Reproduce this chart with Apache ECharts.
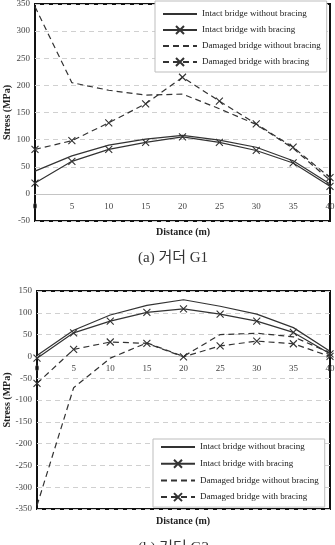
<!DOCTYPE html>
<html>
<head>
<meta charset="utf-8">
<script src="https://cdn.jsdelivr.net/npm/echarts@6/dist/echarts.min.js"></script>
<style>
html,body{margin:0;padding:0;background:#fff;}
#c{width:335px;height:545px;}
</style>
</head>
<body>
<div id="c"></div>
<script>
// ---- data ----
var distance = [0, 5, 10, 15, 20, 25, 30, 35, 40];
var seriesNames = ['Intact bridge without bracing', 'Intact bridge with bracing', 'Damaged bridge without bracing', 'Damaged bridge with bracing'];

// Girder G1 (MPa)
var g1IntactNoBrace  = [42, 70, 90, 101, 108, 99, 86, 61, 18];
var g1IntactBrace    = [20, 60, 82, 95, 105, 95, 80, 57, 14];
var g1DamagedNoBrace = [345, 205, 191, 182, 184, 157, 128, 84, 25];
var g1DamagedBrace   = [82, 98, 131, 166, 215, 171, 129, 86, 30];

// Girder G2 (MPa)
var g2IntactNoBrace  = [2, 60, 95, 117, 130, 115, 97, 66, 12];
var g2IntactBrace    = [-4, 54, 81, 101, 109, 97, 81, 55, 6];
var g2DamagedNoBrace = [-342, -72, -4, 31, 0, 50, 53, 45, 8];
var g2DamagedBrace   = [-62, 16, 33, 30, -1, 24, 35, 29, 0];

var g1Y = {min: -50, max: 350, interval: 50};
var g2Y = {min: -350, max: 150, interval: 50};
var xRange = {min: 0, max: 40, interval: 5};

var xAxisTitle = 'Distance (m)';
var yAxisTitle = 'Stress (MPa)';
var caption1 = '(a) 거더 G1';
var caption2 = '(b) 거더 G2';

// ---- build ----
var SERIF = '"Liberation Serif","DejaVu Serif",serif';
var CROSS = 'path://M0,0L10,10M10,0L0,10';
var hasMarker = [false, true, false, true];
var isDashed = [false, false, true, true];
var grids = [
  {left: 35, top: 4, width: 295, height: 217},
  {left: 37, top: 291, width: 293, height: 218}
];
function pairs(ys){ return distance.map(function(x,i){ return [x, ys[i]]; }); }

function mkSeries(k, ys, idx){
  var marker = hasMarker[k];
  return {
    name: seriesNames[k], type: 'line', xAxisIndex: idx, yAxisIndex: idx,
    data: pairs(ys),
    symbol: marker ? CROSS : 'none',
    showSymbol: marker,
    symbolSize: 7,
    itemStyle: {color: '#333', borderColor: '#333', borderWidth: 1.1},
    lineStyle: {color: '#333', width: 1.2, type: isDashed[k] ? [6, 4] : 'solid'},
    animation: false
  };
}

// x axis sits on the y = 0 line: shift it up from the grid bottom by the zero's share of the height
function mkX(idx, yr){
  var zeroShift = -grids[idx].height * (0 - yr.min) / (yr.max - yr.min);
  return {
    type: 'value', gridIndex: idx, min: xRange.min, max: xRange.max, interval: xRange.interval,
    position: 'bottom', offset: zeroShift,
    axisLine: {show: true, onZero: false, lineStyle: {color: '#c4c4c4', width: 1}},
    axisTick: {show: false},
    axisLabel: {fontFamily: SERIF, fontSize: 9, color: '#444', margin: 8},
    splitLine: {show: false},
    z: 3
  };
}
function mkY(idx, r, gap){
  return {
    type: 'value', gridIndex: idx, min: r.min, max: r.max, interval: r.interval,
    name: yAxisTitle, nameLocation: 'middle', nameRotate: 90, nameGap: gap, nameMoveOverlap: false,
    nameTextStyle: {fontFamily: SERIF, fontSize: 10, fontWeight: 'bold', color: '#222'},
    axisLine: {show: false, onZero: false}, axisTick: {show: false},
    axisLabel: {fontFamily: SERIF, fontSize: 9, color: '#444', margin: 5},
    splitLine: {show: true, lineStyle: {color: '#d0d0d0', width: 1, type: [5, 4]}}
  };
}
function mkLegend(left, top, gap, pad){
  return {
    left: left, top: top, orient: 'vertical',
    data: seriesNames.map(function(n, k){
      return hasMarker[k] ? {name: n} : {name: n, itemStyle: {color: 'rgba(0,0,0,0)', borderColor: 'rgba(0,0,0,0)', opacity: 0}};
    }),
    itemWidth: 34, itemHeight: 10, itemGap: gap,
    padding: pad,
    backgroundColor: '#fff', borderColor: '#bdbdbd', borderWidth: 1,
    textStyle: {fontFamily: SERIF, fontSize: 9, color: '#222'},
    selectedMode: false
  };
}
function mkGrid(g){
  return {left: g.left, top: g.top, width: g.width, height: g.height, show: true,
    borderColor: '#111', borderWidth: 2, backgroundColor: 'transparent',
    containLabel: false, outerBoundsMode: 'none'};
}

var chart = echarts.init(document.getElementById('c'), null, {renderer: 'canvas'});
chart.setOption({
  animation: false,
  backgroundColor: '#fff',
  grid: [mkGrid(grids[0]), mkGrid(grids[1])],
  xAxis: [mkX(0, g1Y), mkX(1, g2Y)],
  yAxis: [mkY(0, g1Y, 23), mkY(1, g2Y, 25)],
  legend: [mkLegend(155, 1, 6, [8, 6, 5, 7]), mkLegend(153, 439, 6.7, [3, 6, 5, 7])],
  series: [
    mkSeries(0, g1IntactNoBrace, 0),
    mkSeries(1, g1IntactBrace, 0),
    mkSeries(2, g1DamagedNoBrace, 0),
    mkSeries(3, g1DamagedBrace, 0),
    mkSeries(0, g2IntactNoBrace, 1),
    mkSeries(1, g2IntactBrace, 1),
    mkSeries(2, g2DamagedNoBrace, 1),
    mkSeries(3, g2DamagedBrace, 1)
  ],
  graphic: [
    {type: 'text', z: 10, top: 227, left: 156, style: {text: xAxisTitle, font: 'bold 10px ' + SERIF, fill: '#222'}},
    {type: 'text', z: 10, top: 251, left: 138, style: {text: caption1, font: '15px "Liberation Serif","Noto Sans CJK KR",serif', fill: '#333'}},
    {type: 'text', z: 10, top: 516, left: 156, style: {text: xAxisTitle, font: 'bold 10px ' + SERIF, fill: '#222'}},
    {type: 'text', z: 10, top: 541, left: 138, style: {text: caption2, font: '15px "Liberation Serif","Noto Sans CJK KR",serif', fill: '#333'}}
  ]
});
</script>
</body>
</html>
